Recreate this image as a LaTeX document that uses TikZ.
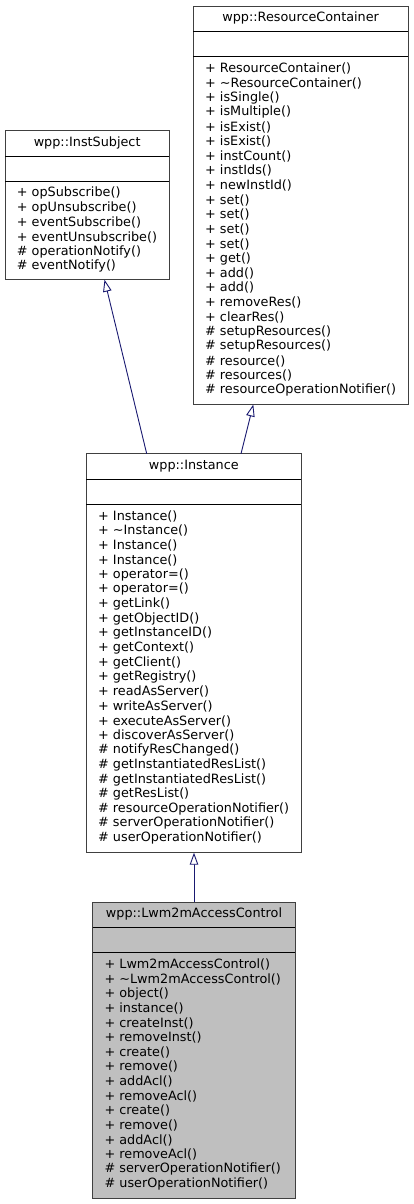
\documentclass[tikz,border=0pt]{standalone}
\usepackage{fontspec}
\setmainfont{DejaVu Sans}
\usetikzlibrary{arrows.meta,calc}
\definecolor{edgeblue}{HTML}{191970}
\definecolor{hlgray}{HTML}{BFBFBF}
\definecolor{boxline}{HTML}{404040}
\tikzset{
  classbox/.style={draw=boxline, line width=0.9pt, inner sep=0pt, outer sep=0pt},
  divider/.style={draw=black, line width=0.9pt},
  classtitle/.style={inner sep=0pt, font=\fontsize{12.8pt}{14.6pt}\selectfont},
  member/.style={inner sep=0pt, anchor=west, font=\fontsize{12.8pt}{14.6pt}\selectfont},
  inherit/.style={draw=edgeblue, line width=0.9pt, -{Triangle[open, length=12pt, width=8.5pt, fill=white]}}
}
\newcommand{\umlclass}[8]{%
  \node[classbox, fill=#7, minimum width=#4pt, minimum height=#5pt, anchor=north west] (#1) at (#2pt,-#3pt) {};
  \draw[divider] ([yshift=-25.4pt]#1.north west) -- ([yshift=-25.4pt]#1.north east);
  \draw[divider] ([yshift=-50.8pt]#1.north west) -- ([yshift=-50.8pt]#1.north east);
  \node[classtitle] (#1-t) at ([yshift=-12.2pt]#1.north) {#6};
  \foreach \m [count=\k] in {#8}
    \node[member] (#1-\k) at ([xshift=11.7pt, yshift={-62.6pt-(\k-1)*14.62pt}]#1.north west) {\m};
}
\begin{document}
\begin{tikzpicture}[x=1pt,y=1pt]
\useasboundingbox (0,0) rectangle (413,-1204);
\umlclass{rc}{193.3}{6}{214.7}{398.5}{wpp::ResourceContainer}{white}{%
+ ResourceContainer(),
+ \textasciitilde ResourceContainer(),
+ isSingle(),
+ isMultiple(),
+ isExist(),
+ isExist(),
+ instCount(),
+ instIds(),
+ newInstId(),
+ set(),
+ set(),
+ set(),
+ set(),
+ get(),
+ add(),
+ add(),
+ removeRes(),
+ clearRes(),
\# setupResources(),
\# setupResources(),
\# resource(),
\# resources(),
\# resourceOperationNotifier()}
\umlclass{is}{5}{130.7}{164.3}{149}{wpp::InstSubject}{white}{%
+ opSubscribe(),
+ opUnsubscribe(),
+ eventSubscribe(),
+ eventUnsubscribe(),
\# operationNotify(),
\# eventNotify()}
\umlclass{inst}{86.3}{453.7}{215}{399}{wpp::Instance}{white}{%
+ Instance(),
+ \textasciitilde Instance(),
+ Instance(),
+ Instance(),
+ operator=(),
+ operator=(),
+ getLink(),
+ getObjectID(),
+ getInstanceID(),
+ getContext(),
+ getClient(),
+ getRegistry(),
+ readAsServer(),
+ writeAsServer(),
+ executeAsServer(),
+ discoverAsServer(),
\# notifyResChanged(),
\# getInstantiatedResList(),
\# getInstantiatedResList(),
\# getResList(),
\# resourceOperationNotifier(),
\# serverOperationNotifier(),
\# userOperationNotifier()}
\umlclass{lwm}{92.7}{902}{202.6}{296}{wpp::Lwm2mAccessControl}{hlgray}{%
+ Lwm2mAccessControl(),
+ \textasciitilde Lwm2mAccessControl(),
+ object(),
+ instance(),
+ createInst(),
+ removeInst(),
+ create(),
+ remove(),
+ addAcl(),
+ removeAcl(),
+ create(),
+ remove(),
+ addAcl(),
+ removeAcl(),
\# serverOperationNotifier(),
\# userOperationNotifier()}
\draw[inherit] ([xshift=60.4pt]inst.north west) -- ([xshift=99.5pt]is.south west);
\draw[inherit] ([xshift=154.7pt]inst.north west) -- ([xshift=60pt]rc.south west);
\draw[inherit] ([xshift=101.3pt]lwm.north west) -- ([xshift=107.7pt]inst.south west);
\end{tikzpicture}
\end{document}
